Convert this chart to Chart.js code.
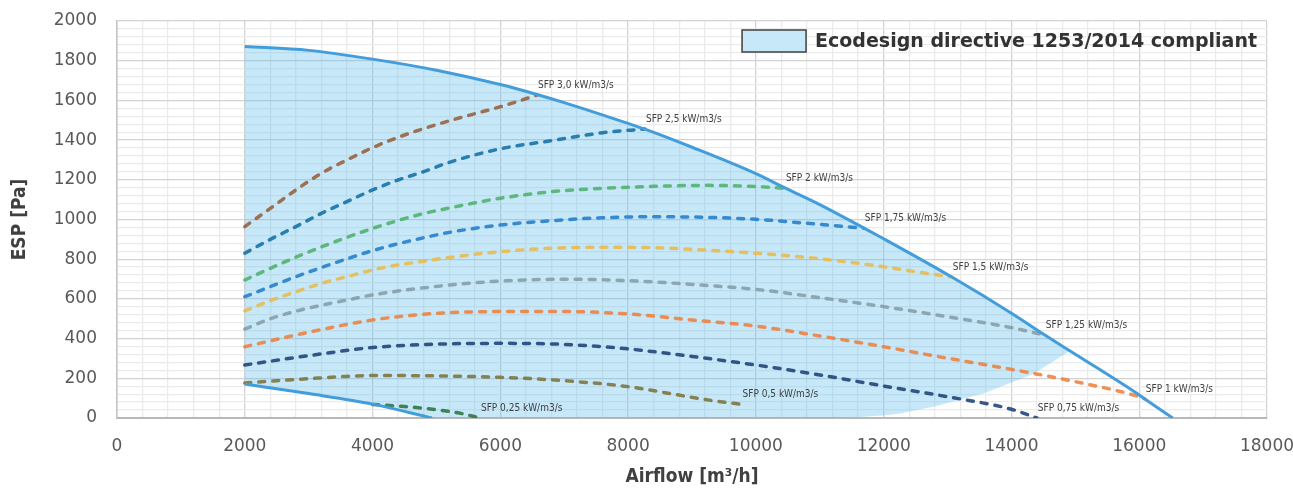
<!DOCTYPE html>
<html>
<head>
<meta charset="utf-8">
<script src="https://cdn.jsdelivr.net/npm/chart.js@4.4.1/dist/chart.umd.min.js"></script>
<style>
  html, body { margin: 0; padding: 0; background: #ffffff; }
  #wrap { width: 1293px; height: 489px; }
</style>
</head>
<body>
<div id="wrap"><canvas id="sfpChart"></canvas></div>
<script>
// Limite superior / inferior de la zona Ecodesign
const maxCurveX = [2000, 3000, 4000, 5000, 6000, 6573, 7000, 8000, 8263, 9000, 10000, 10454, 11000, 11690, 12000, 13067, 14000, 14523, 15000, 16000, 16088, 16526];
const maxCurveY = [1872, 1852, 1808, 1752, 1680, 1630, 1589, 1484, 1455, 1364, 1231, 1159, 1075, 957, 903, 710, 528, 418, 321, 116, 96, 0];
const minCurveX = [2000, 3000, 4000, 4930];
const minCurveY = [171, 123, 70, 0];
const zoneEdgeX = [14914, 14340, 13558, 12775, 12254, 12000, 11500, 11000];
const zoneEdgeY = [338, 222, 124, 57, 23, 12, 3, 0];

// Curvas SFP
const sfp30X = [2000, 2400, 2800, 3200, 3600, 4000, 4400, 4800, 5200, 5600, 6000, 6300, 6573];
const sfp30Y = [964, 1056, 1149, 1233, 1300, 1362, 1414, 1458, 1497, 1533, 1568, 1598, 1627];
const sfp25X = [2000, 2400, 2800, 3200, 3600, 4000, 4400, 4800, 5200, 6000, 6800, 7600, 8263];
const sfp25Y = [830, 900, 964, 1031, 1090, 1149, 1199, 1241, 1288, 1356, 1397, 1437, 1456];
const sfp20X = [2000, 2400, 2800, 3200, 3600, 4000, 4400, 4800, 5200, 6000, 6800, 7600, 8400, 9200, 10000, 10454];
const sfp20Y = [695, 754, 810, 862, 910, 955, 995, 1030, 1058, 1107, 1140, 1157, 1167, 1172, 1166, 1157];
const sfp175X = [2000, 2400, 2800, 3200, 3600, 4000, 4400, 4800, 5200, 6000, 6800, 7600, 8400, 9200, 10000, 10800, 11690];
const sfp175Y = [611, 662, 712, 758, 802, 843, 878, 908, 935, 972, 994, 1009, 1014, 1011, 1001, 981, 956];
const sfp15X = [2000, 2400, 2800, 3200, 3600, 4000, 4400, 4800, 5200, 6000, 6800, 7600, 8400, 9200, 10000, 10800, 11800, 12400, 13067];
const sfp15Y = [540, 591, 636, 678, 712, 746, 771, 790, 809, 838, 855, 860, 858, 846, 830, 809, 771, 742, 710];
const sfp125X = [2000, 2400, 2800, 3200, 3600, 4000, 5000, 6000, 7000, 8000, 9000, 10000, 11000, 12000, 13000, 14000, 14523];
const sfp125Y = [448, 500, 538, 568, 594, 620, 663, 690, 699, 692, 673, 648, 606, 561, 510, 455, 418];
const sfp10X = [2000, 3000, 4000, 5000, 6000, 7000, 8000, 9000, 10000, 11000, 12000, 13000, 14000, 15000, 16000, 16088];
const sfp10Y = [359, 432, 494, 527, 536, 536, 524, 494, 463, 413, 359, 301, 245, 183, 107, 96];
const sfp075X = [2000, 3000, 4000, 5000, 6000, 7000, 8000, 9000, 10000, 11000, 12000, 13000, 14000, 14396];
const sfp075Y = [267, 314, 355, 372, 376, 371, 348, 310, 267, 217, 161, 107, 44, 0];
const sfp05X = [2000, 2500, 3000, 3500, 4000, 5000, 6000, 7000, 8000, 8500, 9000, 9400, 9776];
const sfp05Y = [176, 188, 198, 208, 214, 212, 205, 188, 158, 132, 104, 84, 69];
const sfp025X = [4000, 4500, 5000, 5400, 5681];
const sfp025Y = [68, 58, 42, 22, 0];

const sfpLabels = ["SFP 3,0 kW/m3/s", "SFP 2,5 kW/m3/s", "SFP 2 kW/m3/s", "SFP 1,75 kW/m3/s", "SFP 1,5 kW/m3/s",
  "SFP 1,25 kW/m3/s", "SFP 1 kW/m3/s", "SFP 0,75 kW/m3/s", "SFP 0,5 kW/m3/s", "SFP 0,25 kW/m3/s"];
const legendText = "Ecodesign directive 1253/2014 compliant";
const xTitle = "Airflow [m\u00b3/h]";
const yTitle = "ESP [Pa]";

const FONT = "\"DejaVu Sans\", Verdana, sans-serif";
const FONT_COND = "\"DejaVu Sans Condensed\", \"DejaVu Sans\", sans-serif";
const FONT_NARROW = "\"Liberation Sans Narrow\", \"Arial Narrow\", \"DejaVu Sans Condensed\", sans-serif";
const ZONE_FILL = "rgba(91, 189, 235, 0.35)";
const BOUNDARY = "#439ddb";

function toPoints(xs, ys) {
  return xs.map((x, i) => ({ x, y: ys[i] }));
}

function buildZone() {
  const pts = [];
  maxCurveX.forEach((x, i) => {
    if (x < zoneEdgeX[0]) pts.push({ x, y: maxCurveY[i] });
  });
  zoneEdgeX.forEach((x, i) => pts.push({ x, y: zoneEdgeY[i] }));
  for (let i = minCurveX.length - 1; i >= 0; i--) pts.push({ x: minCurveX[i], y: minCurveY[i] });
  pts.push({ ...pts[0] });
  return pts;
}

function sfpDataset(xs, ys, color, label) {
  return {
    data: toPoints(xs, ys),
    sfpLabel: label,
    showLine: true,
    borderColor: color,
    borderWidth: 3.5,
    borderDash: [6, 8],
    borderCapStyle: "round",
    cubicInterpolationMode: "monotone",
    pointRadius: 0,
    order: 2
  };
}

const sfpLabelPlugin = {
  id: "sfpLabels",
  afterDatasetsDraw(chart) {
    const ctx = chart.ctx;
    ctx.save();
    ctx.font = "10px " + FONT_NARROW;
    ctx.fillStyle = "#404040";
    ctx.textAlign = "left";
    ctx.textBaseline = "middle";
    chart.data.datasets.forEach((ds, i) => {
      if (!ds.sfpLabel) return;
      const meta = chart.getDatasetMeta(i);
      const last = meta.data[meta.data.length - 1];
      ctx.fillText(ds.sfpLabel, last.x + 1, last.y - 10);
    });
    ctx.restore();
  }
};

const zoneLegendPlugin = {
  id: "zoneLegend",
  afterDraw(chart) {
    const { ctx, chartArea } = chart;
    ctx.save();
    ctx.font = "bold 19px " + FONT;
    const w = ctx.measureText(legendText).width;
    const textRight = chartArea.right - 10;
    const textLeft = textRight - w;
    const midY = chartArea.top + 20;
    const boxRight = textLeft - 9;
    const boxLeft = boxRight - 64;
    ctx.fillStyle = "#ffffff";
    ctx.fillRect(boxLeft, midY - 11, 64, 22);
    ctx.fillStyle = ZONE_FILL;
    ctx.fillRect(boxLeft, midY - 11, 64, 22);
    ctx.strokeStyle = "#404040";
    ctx.lineWidth = 1.5;
    ctx.strokeRect(boxLeft, midY - 11, 64, 22);
    ctx.fillStyle = "#333333";
    ctx.textAlign = "left";
    ctx.textBaseline = "middle";
    ctx.fillText(legendText, textLeft, midY + 1);
    ctx.restore();
  }
};

new Chart(document.getElementById("sfpChart"), {
  type: "scatter",
  data: {
    datasets: [
      {
        data: toPoints(maxCurveX, maxCurveY),
        showLine: true,
        borderColor: BOUNDARY,
        borderWidth: 3,
        cubicInterpolationMode: "monotone",
        pointRadius: 0,
        order: 0
      },
      {
        data: toPoints(minCurveX, minCurveY),
        showLine: true,
        borderColor: BOUNDARY,
        borderWidth: 3,
        cubicInterpolationMode: "monotone",
        pointRadius: 0,
        order: 0
      },
      sfpDataset(sfp30X, sfp30Y, "rgba(150, 90, 55, 0.85)", sfpLabels[0]),
      sfpDataset(sfp25X, sfp25Y, "rgba(20, 110, 165, 0.88)", sfpLabels[1]),
      sfpDataset(sfp20X, sfp20Y, "rgba(75, 175, 105, 0.85)", sfpLabels[2]),
      sfpDataset(sfp175X, sfp175Y, "rgba(35, 125, 200, 0.88)", sfpLabels[3]),
      sfpDataset(sfp15X, sfp15Y, "rgba(235, 185, 70, 0.85)", sfpLabels[4]),
      sfpDataset(sfp125X, sfp125Y, "rgba(130, 155, 165, 0.85)", sfpLabels[5]),
      sfpDataset(sfp10X, sfp10Y, "rgba(240, 125, 55, 0.85)", sfpLabels[6]),
      sfpDataset(sfp075X, sfp075Y, "rgba(30, 65, 120, 0.88)", sfpLabels[7]),
      sfpDataset(sfp05X, sfp05Y, "rgba(125, 115, 60, 0.88)", sfpLabels[8]),
      sfpDataset(sfp025X, sfp025Y, "rgba(45, 115, 65, 0.88)", sfpLabels[9]),
      {
        data: buildZone(),
        showLine: true,
        fill: "shape",
        backgroundColor: ZONE_FILL,
        borderColor: "rgba(0,0,0,0)",
        borderWidth: 0,
        tension: 0,
        pointRadius: 0,
        order: 5
      }
    ]
  },
  options: {
    responsive: true,
    maintainAspectRatio: false,
    animation: false,
    events: [],
    layout: { padding: { top: 21, right: 26, bottom: 0, left: 0 } },
    plugins: {
      legend: { display: false },
      tooltip: { enabled: false }
    },
    scales: {
      x: {
        type: "linear",
        min: 0,
        max: 18000,
        afterFit: (scale) => {
          scale.height = 71;
          scale.paddingLeft = 0;
          scale.paddingRight = 0;
        },
        ticks: {
          stepSize: 400,
          autoSkip: false,
          maxRotation: 0,
          padding: 18,
          color: "#595959",
          font: { family: FONT, size: 17 },
          callback: (v) => (Math.round(v) % 2000 === 0 ? String(Math.round(v)) : "")
        },
        grid: {
          drawTicks: false,
          lineWidth: 1.3,
          color: (c) => (c.tick && Math.round(c.tick.value) % 2000 === 0 ? "#d2d2d2" : "#ebebeb")
        },
        border: { color: "#b8b8b8", width: 2 },
        title: {
          display: true,
          text: xTitle,
          color: "#404040",
          font: { family: FONT_COND, size: 19, weight: "bold" },
          padding: { top: 0, bottom: 1 }
        }
      },
      y: {
        type: "linear",
        min: 0,
        max: 2000,
        afterFit: (scale) => {
          scale.width = 117;
          scale.paddingTop = 0;
          scale.paddingBottom = 0;
        },
        ticks: {
          stepSize: 40,
          autoSkip: false,
          padding: 20,
          color: "#595959",
          font: { family: FONT, size: 17 },
          callback: (v) => (Math.round(v) % 200 === 0 ? String(Math.round(v)) : "")
        },
        grid: {
          drawTicks: false,
          lineWidth: 1.3,
          color: (c) => (c.tick && Math.round(c.tick.value) % 200 === 0 ? "#d2d2d2" : "#ebebeb")
        },
        border: { color: "#c4c4c4", width: 1.5 },
        title: {
          display: true,
          text: yTitle,
          color: "#404040",
          font: { family: FONT_COND, size: 19, weight: "bold" },
          padding: { top: 9, bottom: 0 }
        }
      }
    }
  },
  plugins: [sfpLabelPlugin, zoneLegendPlugin]
});
</script>
</body>
</html>
